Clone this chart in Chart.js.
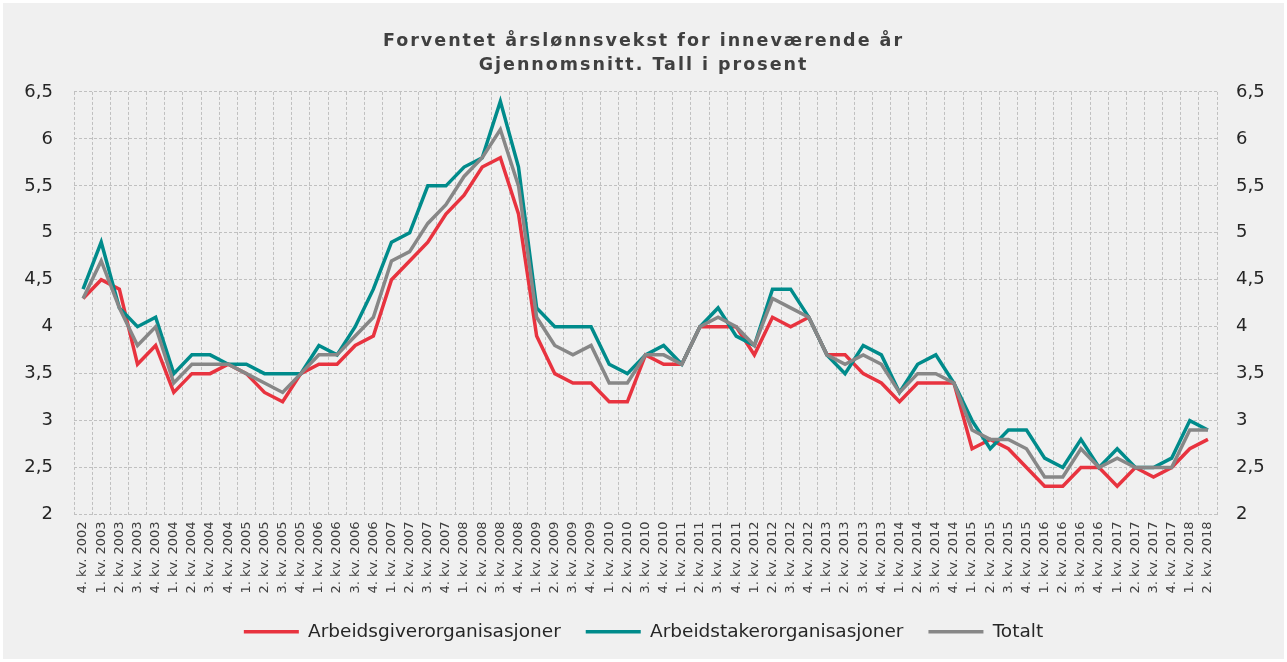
<!DOCTYPE html>
<html>
<head>
<meta charset="utf-8">
<script src="https://cdn.jsdelivr.net/npm/chart.js@4.4.1/dist/chart.umd.min.js"></script>
<style>
  html, body { margin: 0; padding: 0; background: #ffffff; }
  #wrap { width: 1287px; height: 662px; }
</style>
</head>
<body>
<div id="wrap"><canvas id="c" width="1287" height="662"></canvas></div>
<script>
const categories = [
  "4. kv. 2002",
  "1. kv. 2003","2. kv. 2003","3. kv. 2003","4. kv. 2003",
  "1. kv. 2004","2. kv. 2004","3. kv. 2004","4. kv. 2004",
  "1. kv. 2005","2. kv. 2005","3. kv. 2005","4. kv. 2005",
  "1. kv. 2006","2. kv. 2006","3. kv. 2006","4. kv. 2006",
  "1. kv. 2007","2. kv. 2007","3. kv. 2007","4. kv. 2007",
  "1. kv. 2008","2. kv. 2008","3. kv. 2008","4. kv. 2008",
  "1. kv. 2009","2. kv. 2009","3. kv. 2009","4. kv. 2009",
  "1. kv. 2010","2. kv. 2010","3. kv. 2010","4. kv. 2010",
  "1. kv. 2011","2. kv. 2011","3. kv. 2011","4. kv. 2011",
  "1. kv. 2012","2. kv. 2012","3. kv. 2012","4. kv. 2012",
  "1. kv. 2013","2. kv. 2013","3. kv. 2013","4. kv. 2013",
  "1. kv. 2014","2. kv. 2014","3. kv. 2014","4. kv. 2014",
  "1. kv. 2015","2. kv. 2015","3. kv. 2015","4. kv. 2015",
  "1. kv. 2016","2. kv. 2016","3. kv. 2016","4. kv. 2016",
  "1. kv. 2017","2. kv. 2017","3. kv. 2017","4. kv. 2017",
  "1. kv. 2018","2. kv. 2018"
];

const arbeidsgiver = [4.3,4.5,4.4,3.6,3.8,3.3,3.5,3.5,3.6,3.5,3.3,3.2,3.5,3.6,3.6,3.8,3.9,4.5,4.7,4.9,5.2,5.4,5.7,5.8,5.2,3.9,3.5,3.4,3.4,3.2,3.2,3.7,3.6,3.6,4.0,4.0,4.0,3.7,4.1,4.0,4.1,3.7,3.7,3.5,3.4,3.2,3.4,3.4,3.4,2.7,2.8,2.7,2.5,2.3,2.3,2.5,2.5,2.3,2.5,2.4,2.5,2.7,2.8];
const arbeidstaker = [4.4,4.9,4.2,4.0,4.1,3.5,3.7,3.7,3.6,3.6,3.5,3.5,3.5,3.8,3.7,4.0,4.4,4.9,5.0,5.5,5.5,5.7,5.8,6.4,5.7,4.2,4.0,4.0,4.0,3.6,3.5,3.7,3.8,3.6,4.0,4.2,3.9,3.8,4.4,4.4,4.1,3.7,3.5,3.8,3.7,3.3,3.6,3.7,3.4,3.0,2.7,2.9,2.9,2.6,2.5,2.8,2.5,2.7,2.5,2.5,2.6,3.0,2.9];
const totalt = [4.3,4.7,4.2,3.8,4.0,3.4,3.6,3.6,3.6,3.5,3.4,3.3,3.5,3.7,3.7,3.9,4.1,4.7,4.8,5.1,5.3,5.6,5.8,6.1,5.5,4.1,3.8,3.7,3.8,3.4,3.4,3.7,3.7,3.6,4.0,4.1,4.0,3.8,4.3,4.2,4.1,3.7,3.6,3.7,3.6,3.3,3.5,3.5,3.4,2.9,2.8,2.8,2.7,2.4,2.4,2.7,2.5,2.6,2.5,2.5,2.5,2.9,2.9];

const seriesNames = ["Arbeidsgiverorganisasjoner", "Arbeidstakerorganisasjoner", "Totalt"];
const titleLines = ["Forventet årslønnsvekst for inneværende år", "Gjennomsnitt. Tall i prosent"];
const yMin = 2, yMax = 6.5, yStep = 0.5;

const FONT = "'DejaVu Sans', Verdana, sans-serif";
const gridColor = '#c0c0c0';
const fmt = v => String(v).replace('.', ',');

const bgPlugin = {
  id: 'bg',
  beforeDraw(chart) {
    const ctx = chart.ctx;
    ctx.save();
    ctx.fillStyle = '#ffffff';
    ctx.fillRect(0, 0, chart.width, chart.height);
    ctx.fillStyle = '#f0f0f0';
    ctx.fillRect(3, 3, chart.width - 6, chart.height - 6);
    ctx.restore();
  }
};

const titleSpacing = {
  id: 'titleSpacing',
  afterInit(chart) {
    const tb = chart.titleBlock;
    if (tb && !tb._patched) {
      const orig = tb.draw;
      tb.draw = function () {
        const ctx = this.ctx;
        ctx.save();
        try { ctx.letterSpacing = '2px'; } catch (e) {}
        orig.apply(this, arguments);
        ctx.restore();
      };
      tb._patched = true;
    }
  }
};

const chart = new Chart(document.getElementById('c'), {
  type: 'line',
  data: {
    labels: categories,
    datasets: [
      { label: seriesNames[0], data: arbeidsgiver, borderColor: '#e8333f', backgroundColor: '#e8333f', borderWidth: 3.5, order: 2 },
      { label: seriesNames[1], data: arbeidstaker, borderColor: '#008b8b', backgroundColor: '#008b8b', borderWidth: 3.5, order: 1 },
      { label: seriesNames[2], data: totalt, borderColor: '#878787', backgroundColor: '#878787', borderWidth: 3.5, order: 0 }
    ]
  },
  options: {
    responsive: false,
    animation: false,
    devicePixelRatio: 1,
    elements: {
      line: { borderWidth: 3.5, tension: 0, borderJoinStyle: 'miter', fill: false },
      point: { radius: 0, hoverRadius: 0 }
    },
    layout: { padding: { left: 0, right: 0, top: 0, bottom: 11 } },
    plugins: {
      tooltip: { enabled: false },
      title: {
        display: true,
        text: titleLines,
        color: '#404040',
        font: { family: FONT, size: 17.5, weight: 'bold', lineHeight: 1.37 },
        padding: { top: 29, bottom: 15 }
      },
      legend: {
        position: 'bottom',
        labels: {
          color: '#262626',
          font: { family: FONT, size: 18.5 },
          usePointStyle: true,
          pointStyle: 'line',
          pointStyleWidth: 55,
          padding: 25,
          sort: (a, b) => a.datasetIndex - b.datasetIndex
        }
      }
    },
    scales: {
      x: {
        type: 'category',
        offset: true,
        grid: { display: true, offset: true, color: gridColor, lineWidth: 1, drawTicks: false },
        border: { display: false, dash: [3, 2] },
        ticks: {
          autoSkip: false, minRotation: 90, maxRotation: 90,
          color: '#404040', padding: 7,
          font: { family: FONT, size: 13 }
        },
        afterFit(scale) { scale.height = 83; }
      },
      y: {
        position: 'left',
        min: yMin, max: yMax,
        grid: { color: gridColor, lineWidth: 1, drawTicks: false },
        border: { display: false, dash: [3, 2] },
        ticks: {
          stepSize: yStep, color: '#262626', padding: 21,
          font: { family: FONT, size: 18 },
          callback: fmt
        },
        afterFit(scale) { scale.width = 74; }
      },
      y2: {
        position: 'right',
        min: yMin, max: yMax,
        grid: { display: false, drawTicks: false },
        border: { display: false },
        ticks: {
          stepSize: yStep, color: '#262626', padding: 19,
          font: { family: FONT, size: 18 },
          callback: fmt
        },
        afterFit(scale) { scale.width = 70; }
      }
    }
  },
  plugins: [bgPlugin, titleSpacing]
});
chart.draw();
</script>
</body>
</html>
